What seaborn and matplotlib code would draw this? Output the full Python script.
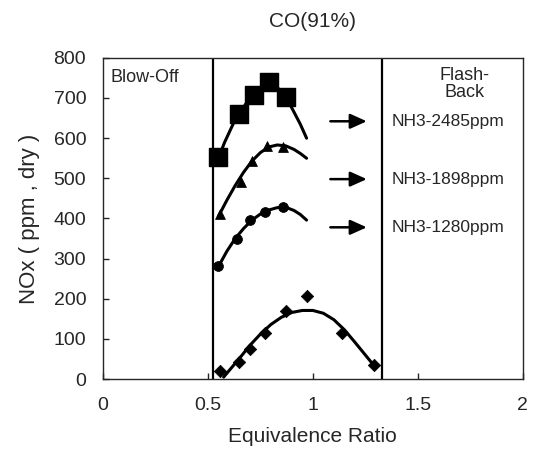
import matplotlib
matplotlib.use("Agg")
import matplotlib.pyplot as plt
import seaborn as sns

# measured points (equivalence ratio, NOx ppm dry)
sq_x = [0.55, 0.65, 0.72, 0.79, 0.87]
sq_y = [552, 660, 707, 740, 702]
tri_x = [0.56, 0.66, 0.71, 0.78, 0.86]
tri_y = [410, 490, 542, 580, 578]
cir_x = [0.55, 0.64, 0.70, 0.77, 0.86]
cir_y = [282, 350, 395, 415, 428]
dia_x = [0.56, 0.65, 0.70, 0.77, 0.87, 0.97, 1.14, 1.29]
dia_y = [20, 42, 75, 115, 170, 208, 115, 35]

# trend curves
sq_cx = [0.55, 0.58, 0.62, 0.65, 0.68, 0.72, 0.76, 0.80, 0.84, 0.88, 0.91, 0.94, 0.97]
sq_cy = [550, 590, 635, 660, 685, 712, 728, 733, 722, 695, 665, 635, 600]
tri_cx = [0.55, 0.59, 0.63, 0.67, 0.71, 0.75, 0.79, 0.83, 0.87, 0.91, 0.94, 0.97]
tri_cy = [405, 445, 482, 515, 543, 564, 578, 583, 581, 572, 562, 550]
cir_cx = [0.55, 0.59, 0.63, 0.67, 0.71, 0.75, 0.79, 0.83, 0.87, 0.91, 0.94, 0.97]
cir_cy = [280, 318, 350, 375, 396, 411, 421, 427, 428, 420, 410, 396]
dia_cx = [0.575, 0.62, 0.66, 0.70, 0.75, 0.80, 0.85, 0.90, 0.95, 1.00,
          1.05, 1.10, 1.15, 1.20, 1.25, 1.30]
dia_cy = [5, 33, 58, 84, 112, 136, 154, 166, 171, 171, 164, 148, 123, 92, 60, 28]

labels = ["NH3-2485ppm", "NH3-1898ppm", "NH3-1280ppm"]
label_y = [642, 498, 378]
limit_x = [0.525, 1.33]

sns.set_style("ticks")
plt.rcParams["font.family"] = ["Liberation Sans", "DejaVu Sans"]

fig = plt.figure(figsize=(5.33, 4.59), dpi=100)
ax = fig.add_axes([0.193, 0.174, 0.788, 0.70])

for cx, cy in [(sq_cx, sq_cy), (tri_cx, tri_cy), (cir_cx, cir_cy), (dia_cx, dia_cy)]:
    sns.lineplot(x=cx, y=cy, ax=ax, color="black", linewidth=2.2, sort=False)

sns.scatterplot(x=sq_x, y=sq_y, ax=ax, marker="s", s=160, color="black", edgecolor="black")
sns.scatterplot(x=tri_x, y=tri_y, ax=ax, marker="^", s=50, color="black", edgecolor="black")
sns.scatterplot(x=cir_x, y=cir_y, ax=ax, marker="o", s=50, color="black", edgecolor="black")
sns.scatterplot(x=dia_x, y=dia_y, ax=ax, marker="D", s=40, color="black", edgecolor="black")

for lx in limit_x:
    ax.axvline(lx, color="black", linewidth=1.6)

for lab, ly in zip(labels, label_y):
    ax.annotate("", xy=(1.27, ly), xytext=(1.07, ly),
                arrowprops=dict(arrowstyle="-|>,head_length=1.0,head_width=0.45",
                                color="black", lw=1.8))
    ax.text(1.645, ly, lab, ha="center", va="center", fontsize=12.5)

ax.text(0.2, 752, "Blow-Off", ha="center", va="center", fontsize=13)
ax.text(1.72, 735, "Flash-\nBack", ha="center", va="center", fontsize=13, linespacing=1.0)

ax.set_xlim(0, 2)
ax.set_ylim(0, 800)
ax.set_xticks([0, 0.5, 1, 1.5, 2])
ax.set_xticklabels(["0", "0.5", "1", "1.5", "2"])
ax.set_yticks(range(0, 801, 100))
ax.tick_params(direction="in", length=4, labelsize=14, pad=12, width=1)
ax.tick_params(axis="x", pad=13)
for sp in ax.spines.values():
    sp.set_linewidth(1.0)

ax.set_xlabel("Equivalence Ratio", fontsize=15, labelpad=9)
ax.set_ylabel("NOx ( ppm , dry )", fontsize=16, labelpad=10)
ax.set_title("CO(91%)", fontsize=15, pad=22)

fig.savefig("out.png", dpi=100)
